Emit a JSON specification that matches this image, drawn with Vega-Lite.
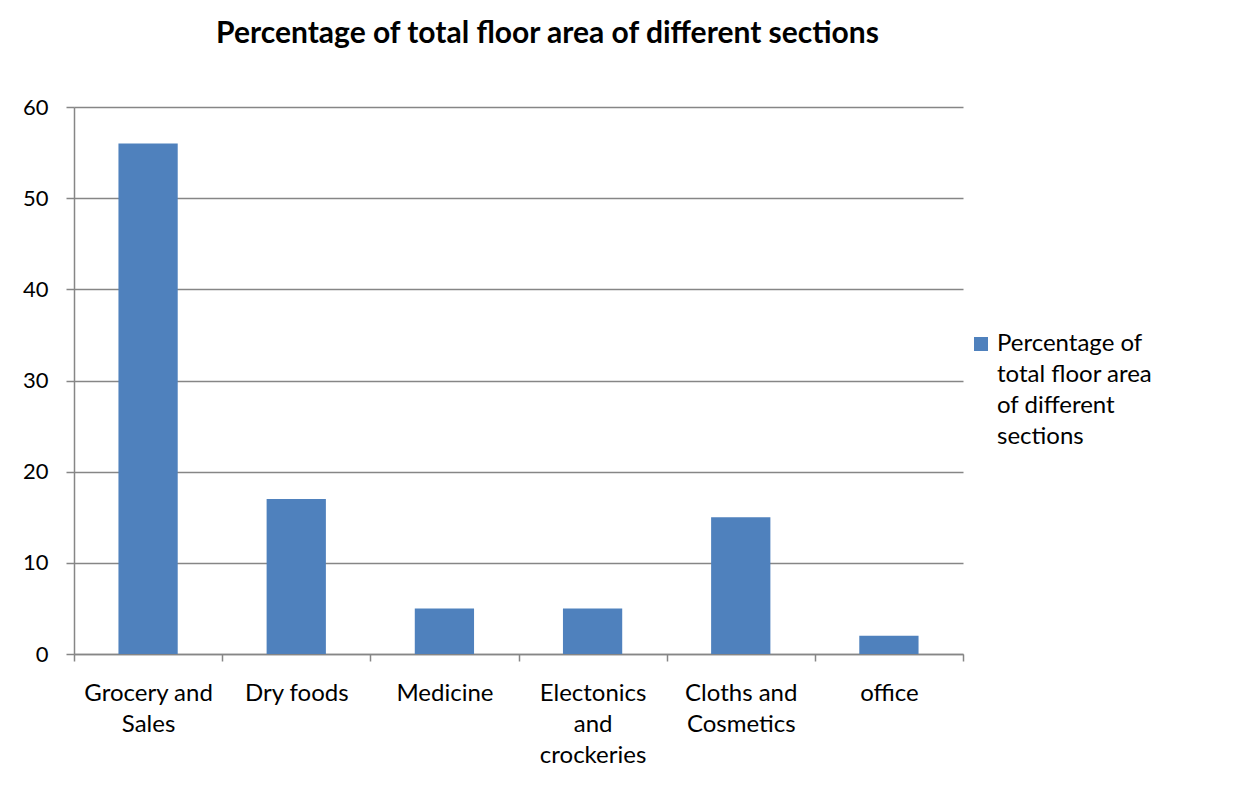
{
  "$schema": "https://vega.github.io/schema/vega-lite/v6.json",
  "width": 889,
  "height": 547,
  "autosize": {"type": "none"},
  "padding": {"left": 74, "top": 107, "right": 290, "bottom": 143},
  "background": "white",
  "title": {
    "text": "Percentage of total floor area of different sections",
    "font": "Lato",
    "fontSize": 30,
    "fontWeight": "bold",
    "color": "black",
    "anchor": "middle",
    "dx": 29,
    "offset": 47
  },
  "data": {
    "values": [
      {"section": "Grocery and Sales", "value": 56, "series": "Percentage of total floor area of different sections"},
      {"section": "Dry foods", "value": 17, "series": "Percentage of total floor area of different sections"},
      {"section": "Medicine", "value": 5, "series": "Percentage of total floor area of different sections"},
      {"section": "Electonics and crockeries", "value": 5, "series": "Percentage of total floor area of different sections"},
      {"section": "Cloths and Cosmetics", "value": 15, "series": "Percentage of total floor area of different sections"},
      {"section": "office", "value": 2, "series": "Percentage of total floor area of different sections"}
    ]
  },
  "mark": {"type": "bar", "width": {"band": 0.4}},
  "encoding": {
    "x": {
      "field": "section",
      "type": "nominal",
      "sort": null,
      "scale": {"paddingInner": 0, "paddingOuter": 0},
      "axis": {
        "title": null,
        "labelAngle": 0,
        "labelFont": "Lato",
        "labelFontSize": 24,
        "labelColor": "black",
        "labelPadding": 20,
        "labelLineHeight": 31,
        "labelBaseline": "top",
        "labelLimit": 300,
        "labelExpr": "datum.label == 'Grocery and Sales' ? ['Grocery and', 'Sales'] : datum.label == 'Electonics and crockeries' ? ['Electonics', 'and', 'crockeries'] : datum.label == 'Cloths and Cosmetics' ? ['Cloths and', 'Cosmetics'] : datum.label",
        "tickBand": "extent",
        "tickSize": 7,
        "tickColor": "#868686",
        "tickWidth": 1.5,
        "domainColor": "#868686",
        "domainWidth": 1.5,
        "grid": false
      }
    },
    "y": {
      "field": "value",
      "type": "quantitative",
      "scale": {"domain": [0, 60], "nice": false},
      "axis": {
        "title": null,
        "values": [0, 10, 20, 30, 40, 50, 60],
        "labelFont": "Lato",
        "labelFontSize": 22,
        "labelColor": "black",
        "labelPadding": 18,
        "tickSize": 8,
        "tickColor": "#868686",
        "tickWidth": 1.5,
        "domainColor": "#868686",
        "domainWidth": 1.5,
        "grid": true,
        "gridColor": "#868686",
        "gridWidth": 1.5
      }
    },
    "color": {
      "field": "series",
      "type": "nominal",
      "scale": {"range": ["#4F81BD"]},
      "legend": {
        "title": null,
        "orient": "none",
        "legendX": 895,
        "legendY": 225,
        "padding": 0,
        "symbolType": "square",
        "symbolSize": 196,
        "symbolStrokeWidth": 0,
        "labelFont": "Lato",
        "labelFontSize": 24,
        "labelColor": "black",
        "labelOffset": 4,
        "labelLimit": 400,
        "labelExpr": "['Percentage of', 'total floor area', 'of different', 'sections']",
        "encoding": {"labels": {"update": {"lineHeight": {"value": 31}}}}
      }
    }
  },
  "config": {
    "view": {"stroke": null},
    "style": {"guide-label": {"lineHeight": 31}}
  }
}
